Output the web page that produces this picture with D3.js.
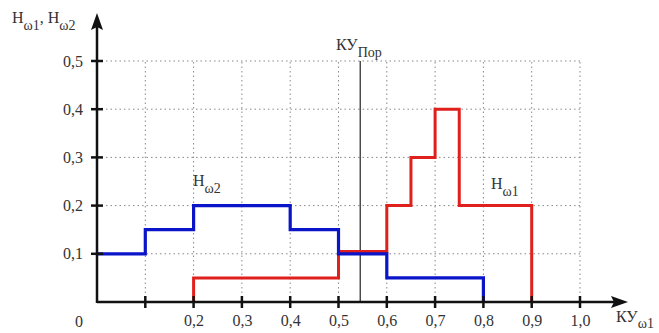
<!DOCTYPE html>
<html><head><meta charset="utf-8">
<script src="https://cdn.jsdelivr.net/npm/d3@7"></script>
<style>body{margin:0;background:#fff}svg{display:block}text{font-family:"Liberation Serif",serif;fill:#333}</style>
</head><body><svg id="c" width="659" height="333"></svg>
<script>
const xTicks = [0.1,0.2,0.3,0.4,0.5,0.6,0.7,0.8,0.9,1.0];
const xTickLabels = ["","0,2","0,3","0,4","0,5","0,6","0,7","0,8","0,9","1,0"];
const yTicks = [0.1,0.2,0.3,0.4,0.5];
const yTickLabels = ["0,1","0,2","0,3","0,4","0,5"];
const h2Edges = [0,0.1,0.2,0.4,0.5,0.6,0.8];
const h2Values = [0.1,0.15,0.2,0.15,0.1,0.05];
const h1Edges = [0.2,0.5,0.6,0.65,0.7,0.75,0.9];
const h1Values = [0.05,0.105,0.2,0.3,0.4,0.2];
const threshold = 0.545;

const svg = d3.select("#c");
const x = d3.scaleLinear().domain([0,1]).range([97,580]);
const y = d3.scaleLinear().domain([0,0.5]).range([302,61]);
const FONT = "Liberation Serif";

// grid
const g = svg.append("g").attr("stroke","#888").attr("stroke-width",1).attr("stroke-dasharray","1.5,3");
yTicks.forEach(v=>g.append("line").attr("x1",x(0)).attr("x2",x(1)).attr("y1",y(v)).attr("y2",y(v)));
xTicks.forEach(v=>g.append("line").attr("x1",x(v)).attr("x2",x(v)).attr("y1",y(0)).attr("y2",y(0.5)));

// threshold
svg.append("line").attr("x1",x(threshold)).attr("x2",x(threshold)).attr("y1",y(0.5)).attr("y2",y(0))
  .attr("stroke","#333").attr("stroke-width",1.3);

function stepPts(edges, vals, startZero){
  const pts=[];
  if(startZero) pts.push([edges[0],0]);
  vals.forEach((v,i)=>{pts.push([edges[i],v]);pts.push([edges[i+1],v]);});
  pts.push([edges[edges.length-1],0]);
  return pts;
}
const line = d3.line().x(d=>x(d[0])).y(d=>y(d[1]));
svg.append("path").attr("d",line(stepPts(h1Edges,h1Values,true))).attr("fill","none")
  .attr("stroke","#e0201c").attr("stroke-width",3);
svg.append("path").attr("d",line(stepPts(h2Edges,h2Values,false))).attr("fill","none")
  .attr("stroke","#0a14c8").attr("stroke-width",3.2);

// axes
svg.append("line").attr("x1",x(0)).attr("x2",620).attr("y1",y(0)).attr("y2",y(0)).attr("stroke","#111").attr("stroke-width",2.5);
svg.append("line").attr("x1",x(0)).attr("x2",x(0)).attr("y1",y(0)+1).attr("y2",22).attr("stroke","#111").attr("stroke-width",2.5);
svg.append("path").attr("d",`M628,${y(0)} L611,${y(0)-6} L614,${y(0)} L611,${y(0)+6} Z`).attr("fill","#111");
svg.append("path").attr("d",`M${x(0)},13 L${x(0)-6},30 L${x(0)},27 L${x(0)+6},30 Z`).attr("fill","#111");

const yAxis = d3.axisLeft(y).tickValues(yTicks).tickFormat((d,i)=>yTickLabels[i]).tickSize(0).tickPadding(14);
const ya = svg.append("g").attr("transform",`translate(${x(0)},0)`).call(yAxis);
ya.select(".domain").remove();
ya.selectAll("text").style("font-size","16px").attr("fill","#333").style("font-family",FONT);
yTicks.forEach(v=>svg.append("line").attr("x1",x(0)-6).attr("x2",x(0)+6).attr("y1",y(v)).attr("y2",y(v)).attr("stroke","#111").attr("stroke-width",2.5));

const xAxis = d3.axisBottom(x).tickValues(xTicks).tickFormat((d,i)=>xTickLabels[i]).tickSize(0).tickPadding(13);
const xa = svg.append("g").attr("transform",`translate(0,${y(0)})`).call(xAxis);
xa.select(".domain").remove();
xa.selectAll("text").style("font-size","16px").attr("fill","#333").style("font-family",FONT);
xTicks.forEach(v=>svg.append("line").attr("x1",x(v)).attr("x2",x(v)).attr("y1",y(0)-6).attr("y2",y(0)+6).attr("stroke","#111").attr("stroke-width",2.5));

svg.append("text").attr("x",79).attr("y",327).attr("text-anchor","middle").style("font-size","16px").style("font-family",FONT).text("0");

function sub(xp,yp,main,s,fs,dy){
  const t=svg.append("text").attr("x",xp).attr("y",yp).style("font-size",fs+"px").style("font-family",FONT);
  t.append("tspan").text(main);
  t.append("tspan").attr("dy",dy||7).style("font-size",(fs-2)+"px").text(s);
  return t;
}
// y title
const tt=svg.append("text").attr("x",12).attr("y",23).style("font-size","16px").style("font-family",FONT);
tt.append("tspan").text("H");
tt.append("tspan").attr("dy",7).style("font-size","14px").text("ω1");
tt.append("tspan").attr("dy",-7).text(", H");
tt.append("tspan").attr("dy",7).style("font-size","14px").text("ω2");

sub(336,50,"КУ","Пор",16);
sub(616,322,"КУ","ω1",16,6);
sub(193,186,"H","ω2",16);
sub(491,189,"H","ω1",16);
</script></body></html>
